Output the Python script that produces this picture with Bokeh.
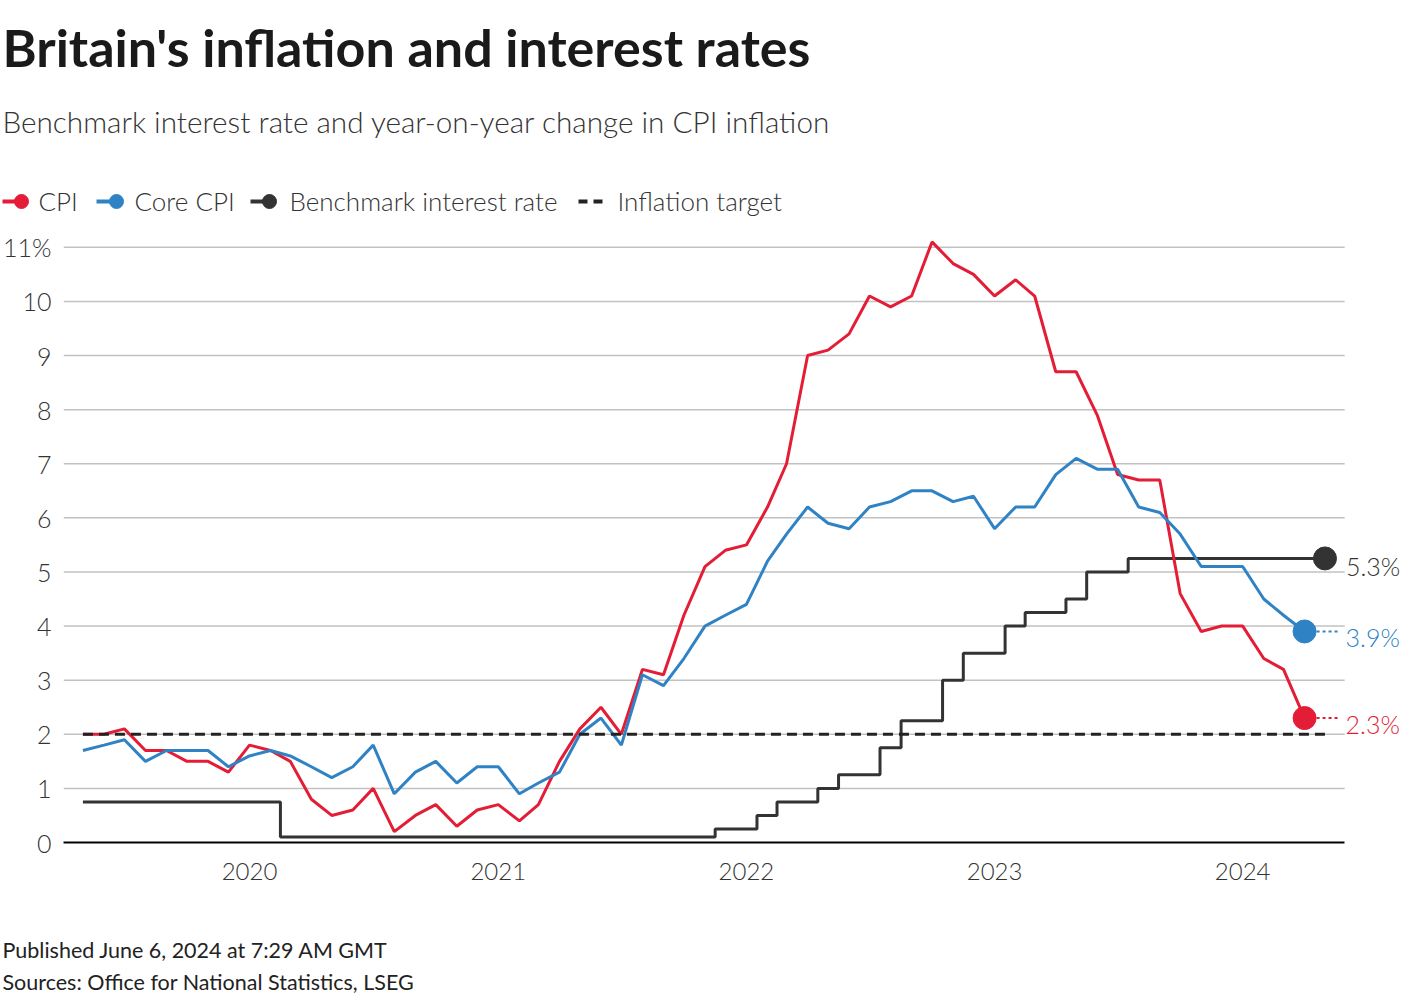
from datetime import timedelta
import pandas as pd
from bokeh.plotting import figure
from bokeh.layouts import column
from bokeh.models import Range1d, FixedTicker, DatetimeTickFormatter, Label
from bokeh.core.properties import value
from bokeh.embed import file_html
from bokeh.resources import INLINE

# ---------------- data ----------------
TITLE = "Britain's inflation and interest rates"
SUBTITLE = "Benchmark interest rate and year-on-year change in CPI inflation"
FOOTER_1 = "Published June 6, 2024 at 7:29 AM GMT"
FOOTER_2 = "Sources: Office for National Statistics, LSEG"

series_names = ["CPI", "Core CPI", "Benchmark interest rate", "Inflation target"]

cpi_start = "2019-05-01"      # monthly, first value May 2019
cpi = [2.0, 2.0, 2.1, 1.7, 1.7, 1.5, 1.5, 1.3,
       1.8, 1.7, 1.5, 0.8, 0.5, 0.6, 1.0, 0.2, 0.5, 0.7, 0.3, 0.6,
       0.7, 0.4, 0.7, 1.5, 2.1, 2.5, 2.0, 3.2, 3.1, 4.2, 5.1, 5.4,
       5.5, 6.2, 7.0, 9.0, 9.1, 9.4, 10.1, 9.9, 10.1, 11.1, 10.7, 10.5,
       10.1, 10.4, 10.1, 8.7, 8.7, 7.9, 6.8, 6.7, 6.7, 4.6, 3.9, 4.0,
       4.0, 3.4, 3.2, 2.3]
core_cpi = [1.7, 1.8, 1.9, 1.5, 1.7, 1.7, 1.7, 1.4,
            1.6, 1.7, 1.6, 1.4, 1.2, 1.4, 1.8, 0.9, 1.3, 1.5, 1.1, 1.4,
            1.4, 0.9, 1.1, 1.3, 2.0, 2.3, 1.8, 3.1, 2.9, 3.4, 4.0, 4.2,
            4.4, 5.2, 5.7, 6.2, 5.9, 5.8, 6.2, 6.3, 6.5, 6.5, 6.3, 6.4,
            5.8, 6.2, 6.2, 6.8, 7.1, 6.9, 6.9, 6.2, 6.1, 5.7, 5.1, 5.1,
            5.1, 4.5, 4.2, 3.9]

rate_start = "2019-05-01"     # monthly, first value May 2019
bank_rate = [0.75, 0.75, 0.75, 0.75, 0.75, 0.75, 0.75, 0.75,
             0.75, 0.75, 0.1, 0.1, 0.1, 0.1, 0.1, 0.1, 0.1, 0.1, 0.1, 0.1,
             0.1, 0.1, 0.1, 0.1, 0.1, 0.1, 0.1, 0.1, 0.1, 0.1, 0.1, 0.25,
             0.25, 0.5, 0.75, 0.75, 1.0, 1.25, 1.25, 1.75, 2.25, 2.25, 3.0, 3.5,
             3.5, 4.0, 4.25, 4.25, 4.5, 5.0, 5.0, 5.25, 5.25, 5.25, 5.25, 5.25,
             5.25, 5.25, 5.25, 5.25, 5.25]
inflation_target = 2.0

y_ticks = [0, 1, 2, 3, 4, 5, 6, 7, 8, 9, 10, 11]
year_ticks = ["2020-01-01", "2021-01-01", "2022-01-01", "2023-01-01", "2024-01-01"]

# ---------------- style ----------------
RED = "#e41d36"
BLUE = "#2f83c4"
DARK = "#333333"
TXT = "#333333"
LIGHT = "Lato Light"
REG = "Lato"

W = 1404
X_START = "2019-04-02 10:00"   # left edge of the plot frame
X_GRID_END = "2024-05-30"      # right end of gridlines / baseline
X_END = "2024-08-26"           # right edge of the (label-including) frame

cpi_dates = pd.date_range(cpi_start, periods=len(cpi), freq="MS")
rate_dates = pd.date_range(rate_start, periods=len(bank_rate), freq="MS")


def ms(ts):
    return pd.Timestamp(ts).timestamp() * 1000.0


def pct(v):
    return f"{v + 1e-9:.1f}%"


def text_fig(height):
    fig = figure(width=W, height=height, x_range=Range1d(0, W), y_range=Range1d(height, 0),
                 output_backend="svg", toolbar_location=None, min_border=0,
                 x_axis_location=None, y_axis_location=None, frame_align=False)
    fig.outline_line_color = None
    fig.grid.visible = False
    return fig


# ---------------- header ----------------
HH = 228
h = text_fig(HH)
h.text(x=[2], y=[46], text=[TITLE], text_font=value(REG), text_font_style="bold",
       text_font_size="52px", text_color="#1a1a1a", text_baseline="middle")
h.text(x=[2], y=[120.5], text=[SUBTITLE], text_font=value(LIGHT),
       text_font_size="29.7px", text_color=TXT, text_baseline="middle")

leg_y = 200
leg_line_x0 = [2, 96, 250]
leg_line_x1 = [21, 116, 269]
leg_colors = [RED, BLUE, DARK]
leg_text_x = [38, 134, 289, 617]
for x0, x1, c in zip(leg_line_x0, leg_line_x1, leg_colors):
    h.segment(x0=[x0], y0=[leg_y + 1], x1=[x1], y1=[leg_y + 1], line_color=c, line_width=4)
    h.scatter(x=[x1], y=[leg_y + 1], size=14, color=c)
h.segment(x0=[578], y0=[leg_y + 1], x1=[606], y1=[leg_y + 1], line_color="#222222",
          line_width=4, line_dash="9 6")
h.text(x=leg_text_x, y=[leg_y] * 4, text=series_names, text_font=value(LIGHT),
       text_font_size="26px", text_color=TXT, text_baseline="middle")

# ---------------- chart ----------------
CH = 676
p = figure(width=W, height=CH, x_axis_type="datetime", output_backend="svg",
           toolbar_location=None, frame_align=False,
           x_range=Range1d(ms(X_START), ms(X_END)),
           y_range=Range1d(0, 11.2),
           min_border_left=62, min_border_right=0, min_border_top=8,
           min_border_bottom=62)
p.outline_line_color = None
p.grid.visible = False

# horizontal gridlines, limited to the data area
grid_vals = y_ticks[1:]
p.segment(x0=[ms(X_START)] * len(grid_vals), y0=grid_vals,
          x1=[ms(X_GRID_END)] * len(grid_vals), y1=grid_vals,
          line_color="#c2c2c2", line_width=1.5)

p.yaxis.ticker = FixedTicker(ticks=y_ticks)
p.yaxis.major_label_overrides = {11: "11%"}
p.yaxis.axis_line_color = None
p.yaxis.major_tick_line_color = None
p.yaxis.minor_tick_line_color = None
p.yaxis.major_tick_out = 0
p.yaxis.major_label_standoff = 12
p.yaxis.major_label_text_font = LIGHT
p.yaxis.major_label_text_font_size = "25px"
p.yaxis.major_label_text_color = TXT

p.xaxis.ticker = FixedTicker(ticks=[ms(t) for t in year_ticks])
p.xaxis.formatter = DatetimeTickFormatter(years="%Y", months="%Y", days="%Y",
                                          hours="%Y", minutes="%Y", seconds="%Y")
p.xaxis.bounds = (ms(X_START), ms(X_GRID_END))
p.xaxis.axis_line_color = "black"
p.xaxis.axis_line_width = 2
p.xaxis.major_tick_line_color = None
p.xaxis.minor_tick_line_color = None
p.xaxis.major_tick_out = 0
p.xaxis.major_label_standoff = 20
p.xaxis.major_label_text_font = LIGHT
p.xaxis.major_label_text_font_size = "24px"
p.xaxis.major_label_text_color = TXT

p.step(x=rate_dates, y=bank_rate, mode="center", line_color=DARK, line_width=3)
p.line(x=cpi_dates, y=cpi, line_color=RED, line_width=3)
p.line(x=cpi_dates, y=core_cpi, line_color=BLUE, line_width=3)
p.line(x=[rate_dates[0], rate_dates[-1]], y=[inflation_target, inflation_target],
       line_color="#222222", line_width=3, line_dash="10 6")

# connectors + end dots + end labels
end_specs = [
    (cpi_dates[-1], cpi[-1], RED, True),
    (cpi_dates[-1], core_cpi[-1], BLUE, True),
    (rate_dates[-1], bank_rate[-1], DARK, False),
]
for d, v, c, conn in end_specs:
    if conn:
        p.segment(x0=[d], y0=[v], x1=[d + timedelta(days=50)], y1=[v],
                  line_color=c, line_width=2, line_dash="3 3")
    p.scatter(x=[d], y=[v], size=23, color=c)
    x_off = 41 if conn else 21
    y_off = -6 if conn else -8
    p.add_layout(Label(x=ms(d), y=v, x_offset=x_off, y_offset=y_off, text=pct(v),
                       text_baseline="middle", text_font=LIGHT,
                       text_font_size="25px", text_color=c if conn else TXT))

# ---------------- footer ----------------
FH = 96
f = text_fig(FH)
f.text(x=[2, 2], y=[45, 77], text=[FOOTER_1, FOOTER_2], text_font=value(REG),
       text_font_size="21.5px", text_color="#222222", text_baseline="middle")

layout = column(h, p, f, spacing=0)
open("out.html", "w").write(file_html(layout, INLINE))
